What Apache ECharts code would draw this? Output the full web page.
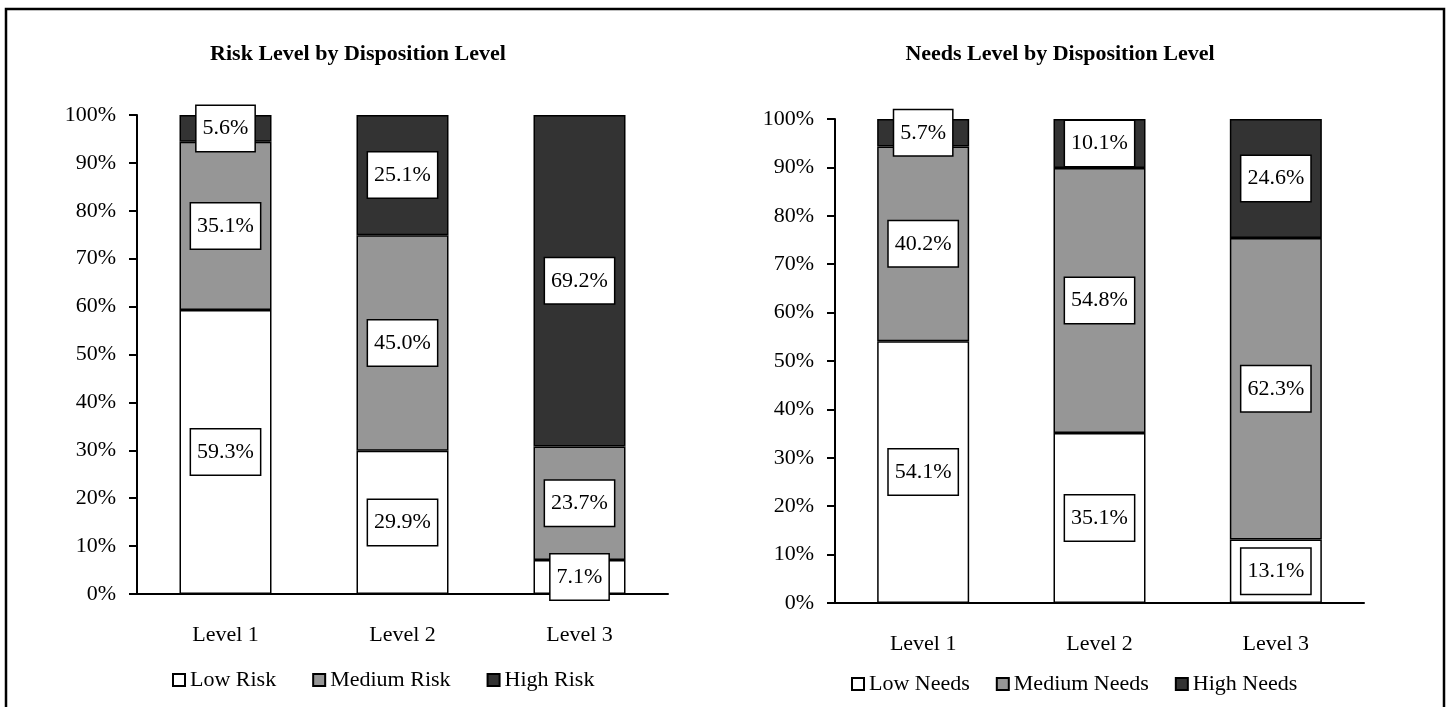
<!DOCTYPE html>
<html>
<head>
<meta charset="utf-8">
<title>Risk and Needs Level by Disposition Level</title>
<script src="https://cdn.jsdelivr.net/npm/echarts@6/dist/echarts.min.js"></script>
<style>
  body { margin: 0; background: #fff; }
  #main { width: 1449px; height: 707px; }
</style>
</head>
<body>
<div id="main"></div>
<script>
  // data (percent of each disposition level)
  var levels = ['Level 1', 'Level 2', 'Level 3'];
  var riskNames = ['Low Risk', 'Medium Risk', 'High Risk'];
  var riskLow = [59.3, 29.9, 7.1];
  var riskMedium = [35.1, 45.0, 23.7];
  var riskHigh = [5.6, 25.1, 69.2];
  var needsNames = ['Low Needs', 'Medium Needs', 'High Needs'];
  var needsLow = [54.1, 35.1, 13.1];
  var needsMedium = [40.2, 54.8, 62.3];
  var needsHigh = [5.7, 10.1, 24.6];

  var FONT = '"Liberation Serif", "Times New Roman", serif';
  var fills = ['#ffffff', '#969696', '#333333'];

  function bar(name, data, color, idx) {
    return {
      name: name,
      type: 'bar',
      stack: 'g' + idx,
      xAxisIndex: idx,
      yAxisIndex: idx,
      barWidth: 92,
      data: data,
      itemStyle: { color: color, borderColor: '#000', borderWidth: 1.5 },
      label: {
        show: true,
        position: 'inside',
        formatter: function (p) { return p.value.toFixed(1) + '%'; },
        color: '#000',
        fontFamily: FONT,
        fontSize: 22,
        backgroundColor: '#fff',
        borderColor: '#000',
        borderWidth: 1.5,
        padding: [12, 6, 11, 6]
      }
    };
  }

  function xAxis(idx) {
    return {
      type: 'category',
      gridIndex: idx,
      data: levels,
      axisLine: { lineStyle: { color: '#000', width: 2 } },
      axisTick: { length: 8, lineStyle: { color: '#000', width: 2 } },
      axisLabel: { color: '#000', fontFamily: FONT, fontSize: 22, margin: 30 }
    };
  }

  function yAxis(idx) {
    return {
      type: 'value',
      gridIndex: idx,
      min: 0,
      max: 100,
      interval: 10,
      axisLine: { show: true, lineStyle: { color: '#000', width: 2 } },
      axisTick: { show: true, length: 8, lineStyle: { color: '#000', width: 2 } },
      splitLine: { show: false },
      axisLabel: { color: '#000', fontFamily: FONT, fontSize: 22, margin: 21, formatter: '{value}%' }
    };
  }

  var chart = echarts.init(document.getElementById('main'));
  chart.setOption({
    animation: false,
    backgroundColor: '#fff',
    title: [
      { text: 'Risk Level by Disposition Level', left: 358, top: 43, textAlign: 'center', padding: 0,
        textStyle: { fontFamily: FONT, fontSize: 22, fontWeight: 'bold', color: '#000' } },
      { text: 'Needs Level by Disposition Level', left: 1060, top: 43, textAlign: 'center', padding: 0,
        textStyle: { fontFamily: FONT, fontSize: 22, fontWeight: 'bold', color: '#000' } }
    ],
    legend: [
      { data: riskNames, left: 172, top: 669, padding: 0, itemGap: 36, itemWidth: 12, itemHeight: 12, icon: 'rect',
        textStyle: { fontFamily: FONT, fontSize: 22, color: '#000' } },
      { data: needsNames, left: 851, top: 673, padding: 0, itemGap: 26, itemWidth: 12, itemHeight: 12, icon: 'rect',
        textStyle: { fontFamily: FONT, fontSize: 22, color: '#000' } }
    ],
    grid: [
      { left: 137, right: 781, top: 115, bottom: 113 },
      { left: 835, right: 85, top: 119, bottom: 104 }
    ],
    xAxis: [xAxis(0), xAxis(1)],
    yAxis: [yAxis(0), yAxis(1)],
    series: [
      bar(riskNames[0], riskLow, fills[0], 0),
      bar(riskNames[1], riskMedium, fills[1], 0),
      bar(riskNames[2], riskHigh, fills[2], 0),
      bar(needsNames[0], needsLow, fills[0], 1),
      bar(needsNames[1], needsMedium, fills[1], 1),
      bar(needsNames[2], needsHigh, fills[2], 1)
    ],
    graphic: [{
      type: 'rect',
      silent: true,
      shape: { x: 6, y: 9, width: 1438, height: 720 },
      style: { fill: 'none', stroke: '#000', lineWidth: 2.5 }
    }]
  });
</script>
</body>
</html>
